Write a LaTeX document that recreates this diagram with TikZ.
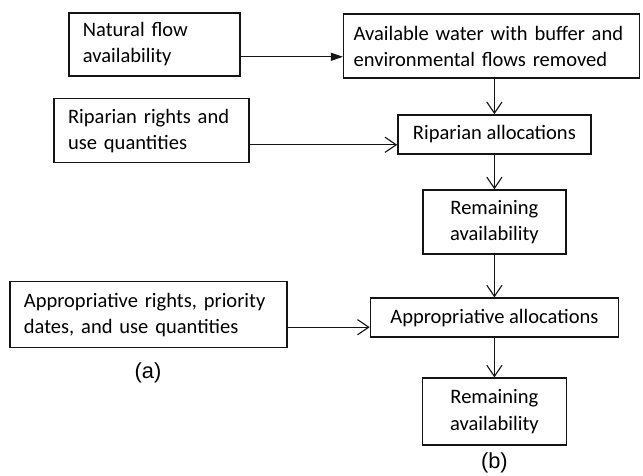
\documentclass[tikz,border=0pt]{standalone}
\usepackage{fontspec}
\setmainfont{Carlito}
\newfontfamily\etiketFont{Liberation Sans}
\usepackage{tikz}
\usetikzlibrary{arrows.meta,calc,positioning}
\definecolor{murekkep}{HTML}{141414}
\tikzset{
  leftBox/.style={draw=murekkep,line width=1pt,align=left,inner xsep=0.35cm,inner ysep=0pt,
    font=\fontsize{14.6}{18.5}\selectfont},
  midBox/.style={draw=murekkep,line width=1pt,align=center,inner sep=0pt,
    font=\fontsize{14.6}{18.5}\selectfont},
  openTip/.style={draw=murekkep,line width=0.8pt,-{Straight Barb[length=0.28cm,width=0.38cm]}},
  fullTip/.style={draw=murekkep,line width=0.8pt,-{Triangle[length=0.3cm,width=0.2cm]}},
  subLabel/.style={font=\etiketFont\fontsize{15.5}{18}\selectfont}
}
\begin{document}
\begin{tikzpicture}[scale=1.0]
\useasboundingbox (0,0) rectangle (16.075,11.9);
% left column
\node[leftBox,text width=3.575cm,minimum height=1.575cm] (natural) at (3.86,10.79) {Natural flow\\availability};
\node[leftBox,text width=4.175cm,minimum height=1.6cm] (riparianRights) at (3.79,8.63) {Riparian rights and\\use quantities};
\node[leftBox,text width=6.225cm,minimum height=1.65cm] (approRights) at (3.71,4.03) {Appropriative rights, priority\\dates, and use quantities};
\node[subLabel] (labelA) at (3.70,2.58) {(a)};
% right column
\node[leftBox,inner xsep=0.25cm,text width=6.9cm,minimum height=1.6cm] (available) at (12.29,10.75) {Available water with buffer and\\environmental flows removed};
\node[midBox,minimum width=4.825cm,minimum height=0.975cm] (riparianAlloc) at (12.36,8.54) {Riparian allocations};
\node[midBox,minimum width=3.575cm,minimum height=1.6cm] (remainA) at (12.36,6.35) {Remaining\\availability};
\node[midBox,minimum width=6.2cm,minimum height=0.975cm] (approAlloc) at (12.36,3.96) {Appropriative allocations};
\node[midBox,minimum width=3.6cm,minimum height=1.675cm] (remainB) at (12.36,1.61) {Remaining\\availability};
\node[subLabel] (labelB) at (12.36,0.33) {(b)};
% connectors
\coordinate (fromNatural) at ($(natural.east)+(0,-0.31)$);
\coordinate (fromRiparian) at ($(riparianRights.east)+(0,-0.35)$);
\coordinate (fromAppro) at ($(approRights.east)+(0,-0.31)$);
\draw[fullTip] (fromNatural) -- (fromNatural -| available.west);
\draw[openTip] (fromRiparian) -- (fromRiparian -| riparianAlloc.west);
\draw[openTip] (fromAppro) -- (fromAppro -| approAlloc.west);
\draw[openTip] (available.south -| riparianAlloc.north) -- (riparianAlloc.north);
\draw[openTip] (riparianAlloc) -- (remainA);
\draw[openTip] (remainA) -- (approAlloc);
\draw[openTip] (approAlloc) -- (remainB);
\end{tikzpicture}
\end{document}
